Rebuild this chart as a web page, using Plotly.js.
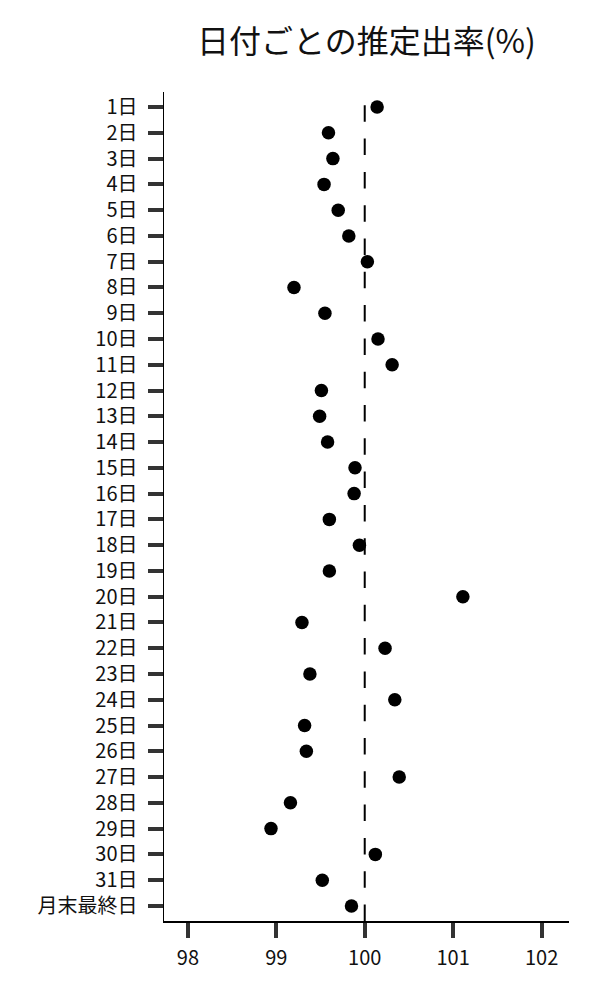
<!DOCTYPE html>
<html>
<head>
<meta charset="utf-8">
<script src="https://cdn.plot.ly/plotly-3.0.1.min.js"></script>
<style>
  html, body { margin: 0; padding: 0; background: #fff; }
  #chart { width: 600px; height: 1000px; }
</style>
</head>
<body>
<div id="chart"></div>
<script>
// 日付ごとの推定出率 - ドットプロット

const days = ['1日','2日','3日','4日','5日','6日','7日','8日','9日','10日',
  '11日','12日','13日','14日','15日','16日','17日','18日','19日','20日',
  '21日','22日','23日','24日','25日','26日','27日','28日','29日','30日',
  '31日','月末最終日'];

const rates = [100.14, 99.59, 99.64, 99.54, 99.70, 99.82, 100.03, 99.20, 99.55, 100.15,
  100.31, 99.51, 99.49, 99.58, 99.89, 99.88, 99.60, 99.94, 99.60, 101.11,
  99.29, 100.23, 99.38, 100.34, 99.32, 99.34, 100.39, 99.16, 98.94, 100.12,
  99.52, 99.85];

const xTicks = [98, 99, 100, 101, 102];
const refLine = 100;

const FONT = '"Noto Sans CJK JP", "Noto Sans", sans-serif';

const trace = {
  x: rates,
  y: days,
  type: 'scatter',
  mode: 'markers',
  marker: {color: '#000', size: 13.5, line: {width: 0}},
  hoverinfo: 'x+y'
};

const layout = {
  width: 600,
  height: 1000,
  margin: {l: 164, r: 31, t: 92, b: 79},
  paper_bgcolor: '#fff',
  plot_bgcolor: '#fff',
  showlegend: false,
  font: {family: FONT, size: 20, color: '#111'},
  title: {
    text: '日付ごとの推定出率(%)',
    font: {family: FONT, size: 32, color: '#111'},
    xref: 'paper', x: 0.5, xanchor: 'center',
    yref: 'container', y: 0.958, yanchor: 'middle'
  },
  xaxis: {
    range: [97.73, 102.31],
    tickvals: xTicks,
    ticktext: xTicks.map(String),
    ticks: 'outside', ticklen: 15, tickwidth: 4, tickcolor: '#333',
    showline: true, linecolor: '#000', linewidth: 1.5,
    showgrid: false, zeroline: false,
    ticklabelstandoff: 3,
    tickfont: {family: FONT, size: 20, color: '#111'}
  },
  yaxis: {
    type: 'category',
    categoryorder: 'array',
    categoryarray: days,
    range: [31.585, -0.585],
    ticks: 'outside', ticklen: 15, tickwidth: 4, tickcolor: '#333',
    showline: true, linecolor: '#000', linewidth: 1.5,
    showgrid: false, zeroline: false,
    ticklabelstandoff: 6,
    tickfont: {family: FONT, size: 20, color: '#111'}
  },
  shapes: [{
    type: 'line', xref: 'x', yref: 'paper',
    x0: refLine, x1: refLine, y0: 0, y1: 1,
    line: {color: '#000', width: 2, dash: '16.5px,16.8px'},
    layer: 'below'
  }]
};

Plotly.newPlot('chart', [trace], layout, {displayModeBar: false, staticPlot: true});
</script>
</body>
</html>
